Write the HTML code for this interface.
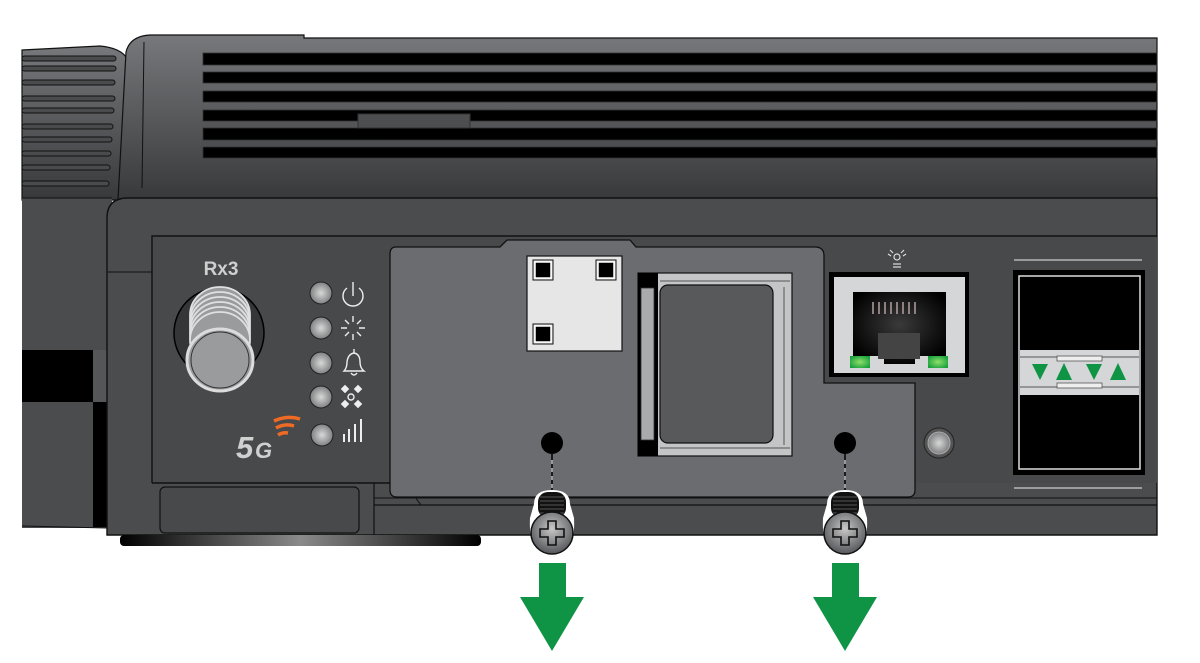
<!DOCTYPE html>
<html><head><meta charset="utf-8"><style>
html,body{margin:0;padding:0;background:#fff}
svg{display:block}
text{font-family:"Liberation Sans",sans-serif}
</style></head><body>
<svg width="1200" height="663" viewBox="0 0 1200 663" xmlns="http://www.w3.org/2000/svg">
<defs>
<linearGradient id="top" x1="0" y1="0" x2="0" y2="1"><stop offset="0" stop-color="#77787b"/><stop offset="1" stop-color="#38393b"/></linearGradient>
<linearGradient id="foot" x1="0" y1="0" x2="1" y2="0"><stop offset="0" stop-color="#000"/><stop offset="0.5" stop-color="#8a8a8a"/><stop offset="1" stop-color="#000"/></linearGradient>
<radialGradient id="led" cx="0.5" cy="0.5" r="0.6"><stop offset="0" stop-color="#d8d8d8"/><stop offset="1" stop-color="#6e6f71"/></radialGradient>
<radialGradient id="gled" cx="0.5" cy="0.5" r="0.6"><stop offset="0" stop-color="#8fe06a"/><stop offset="1" stop-color="#17a03c"/></radialGradient>
<radialGradient id="jack" cx="0.5" cy="0.45" r="0.6"><stop offset="0" stop-color="#3a3a3a"/><stop offset="1" stop-color="#000"/></radialGradient>
<radialGradient id="scr" cx="0.5" cy="0.4" r="0.6"><stop offset="0" stop-color="#c8c8c8"/><stop offset="1" stop-color="#55565a"/></radialGradient>
</defs>

<path d="M22,50 L100,46 Q122,48 128,60 L120,200 L22,200 Z" fill="url(#top)" stroke="#111" stroke-width="1.2"/>
<g stroke="#111" stroke-width="1" fill="#4a4b4d">
<rect x="22" y="56" width="94" height="5" rx="2.5"/><rect x="22" y="66" width="94" height="5" rx="2.5"/>
<rect x="22" y="80" width="93" height="5" rx="2.5"/><rect x="22" y="96" width="93" height="5" rx="2.5"/>
<rect x="22" y="108" width="92" height="5" rx="2.5"/><rect x="22" y="124" width="91" height="5" rx="2.5"/>
<rect x="22" y="137" width="90" height="5" rx="2.5"/><rect x="22" y="151" width="89" height="5" rx="2.5"/>
<rect x="22" y="165" width="88" height="5" rx="2.5"/><rect x="22" y="181" width="87" height="5" rx="2.5"/>
</g>

<path d="M118,200 L126,52 Q130,36 150,35 L304,35 L304,38 L1157,38 L1157,200 Z" fill="url(#top)" stroke="#111" stroke-width="1.2"/>
<line x1="144" y1="42" x2="142" y2="188" stroke="#111" stroke-width="1"/>
<g fill="#000" stroke="#333" stroke-width="0.8">
<rect x="203" y="53" width="954" height="12"/><rect x="203" y="72" width="954" height="11"/>
<rect x="203" y="91" width="954" height="11"/><rect x="203" y="110" width="954" height="11"/>
<rect x="203" y="128" width="954" height="12"/><rect x="203" y="147" width="954" height="11"/>
</g>
<rect x="358" y="114" width="112" height="14" fill="#4d4e50" stroke="#333" stroke-width="1"/>

<rect x="22" y="198" width="90" height="330" fill="#4b4c4e"/>
<line x1="22" y1="198" x2="112" y2="198" stroke="#111"/>
<rect x="22" y="350" width="71" height="52" fill="#000"/>
<rect x="93" y="350" width="14" height="52" fill="#555658"/>
<rect x="93" y="402" width="14" height="125" fill="#000"/>
<line x1="22" y1="526" x2="107" y2="528" stroke="#111"/>

<path d="M107,535 L107,218 Q107,198 128,198 L1157,198 L1157,535 Z" fill="#4b4c4e" stroke="#111" stroke-width="1.4"/>
<line x1="107" y1="272" x2="152" y2="272" stroke="#111"/>
<rect x="120" y="535" width="361" height="11" rx="4" fill="url(#foot)"/>

<rect x="153" y="237" width="1004" height="246" fill="#48494b"/>
<path d="M152,483 L152,236 L1157,236" fill="none" stroke="#111" stroke-width="1.4"/>
<line x1="152" y1="483" x2="390" y2="483" stroke="#111" stroke-width="1.4"/>
<line x1="374" y1="483" x2="374" y2="535" stroke="#111" stroke-width="1.2"/>
<rect x="160" y="487" width="199" height="46" rx="5" fill="#48494b" stroke="#111" stroke-width="1.2"/>
<line x1="374" y1="505" x2="1157" y2="505" stroke="#111" stroke-width="1.2"/>
<line x1="374" y1="498" x2="1157" y2="498" stroke="#111" stroke-width="1"/>

<path d="M396,247 L500,247 L507,240 L630,240 L636,247 L815,247 Q824,247 824,256 L824,383 L915,383 L915,490 Q915,497 908,497 L397,497 Q390,497 390,490 L390,254 Q390,247 396,247 Z" fill="#6b6c6f" stroke="#111" stroke-width="1.3"/>
<path d="M415,497 L421,505 L915,505" fill="none" stroke="#111" stroke-width="1"/>

<rect x="527" y="256" width="95" height="95" fill="#e6e6e6" stroke="#111" stroke-width="1.2"/>
<g fill="#000" stroke="#fff" stroke-width="1.5"><rect x="535" y="262" width="16" height="16"/><rect x="598" y="262" width="16" height="16"/><rect x="535" y="326" width="16" height="16"/></g>
<g fill="none" stroke="#111" stroke-width="1"><rect x="533" y="260" width="20" height="20"/><rect x="596" y="260" width="20" height="20"/><rect x="533" y="324" width="20" height="20"/></g>

<rect x="638" y="273" width="154" height="183" fill="#c4c5c7" stroke="#111" stroke-width="1.2"/>
<rect x="638" y="273" width="20" height="183" fill="#000"/>
<rect x="641" y="288" width="13" height="152" fill="#a9aaac" stroke="#333" stroke-width="0.8"/>
<rect x="660" y="285" width="113" height="158" rx="8" fill="#58595b" stroke="#111" stroke-width="1.2"/>
<line x1="660" y1="281" x2="790" y2="281" stroke="#555" stroke-width="1"/>
<line x1="660" y1="448" x2="790" y2="448" stroke="#555" stroke-width="1"/>
<line x1="784" y1="287" x2="784" y2="445" stroke="#555" stroke-width="1"/>

<ellipse cx="552" cy="443" rx="11" ry="11" fill="#000"/>
<ellipse cx="845" cy="443" rx="11" ry="11" fill="#000"/>
<line x1="552" y1="454" x2="552" y2="492" stroke="#000" stroke-width="1.5"/>
<line x1="552" y1="460" x2="552" y2="492" stroke="#fff" stroke-width="1" stroke-dasharray="4 4"/>
<line x1="845" y1="454" x2="845" y2="492" stroke="#000" stroke-width="1.5"/>
<line x1="845" y1="460" x2="845" y2="492" stroke="#fff" stroke-width="1" stroke-dasharray="4 4"/>

<rect x="829" y="272" width="140" height="105" fill="#000"/>
<rect x="834" y="277" width="131" height="96" fill="#d5d6d8"/>
<path d="M853,292 L946,292 L946,356 L915,356 L915,364 L884,364 L884,356 L853,356 Z" fill="url(#jack)"/>
<g stroke="#a99" stroke-width="1.6"><line x1="873" y1="302" x2="873" y2="314"/><line x1="879" y1="302" x2="879" y2="314"/><line x1="885" y1="302" x2="885" y2="314"/><line x1="891" y1="302" x2="891" y2="314"/><line x1="897" y1="302" x2="897" y2="314"/><line x1="903" y1="302" x2="903" y2="314"/><line x1="909" y1="302" x2="909" y2="314"/><line x1="915" y1="302" x2="915" y2="314"/></g>
<rect x="878" y="333" width="42" height="26" fill="#444"/>
<rect x="850" y="356" width="20" height="12" fill="url(#gled)"/>
<rect x="928" y="356" width="20" height="12" fill="url(#gled)"/>
<g fill="none" stroke="#ddd" stroke-width="1.2"><circle cx="897" cy="257" r="3"/><line x1="893" y1="264" x2="901" y2="264"/><line x1="893" y1="267" x2="901" y2="267"/><path d="M890,250 l3,3 M904,250 l-3,3 M888,254 l3,2 M906,254 l-3,2"/></g>

<circle cx="939" cy="443" r="15" fill="#555" stroke="#222" stroke-width="1"/>
<circle cx="939" cy="443" r="11" fill="url(#led)" stroke="#aaa" stroke-width="1"/>

<line x1="1014" y1="260" x2="1142" y2="260" stroke="#ccc" stroke-width="1.2"/>
<line x1="1014" y1="488" x2="1142" y2="488" stroke="#ccc" stroke-width="1.2"/>
<rect x="1013" y="270" width="132" height="205" fill="#000"/>
<rect x="1019" y="276" width="121" height="193" fill="#000" stroke="#ddd" stroke-width="1.5"/>
<rect x="1020" y="350" width="119" height="45" fill="#d5d6d8"/>
<line x1="1020" y1="357" x2="1139" y2="357" stroke="#555"/><line x1="1020" y1="387" x2="1139" y2="387" stroke="#555"/>
<rect x="1057" y="356" width="45" height="5" fill="#eee" stroke="#555" stroke-width="0.8"/>
<rect x="1057" y="383" width="45" height="5" fill="#eee" stroke="#555" stroke-width="0.8"/>
<g fill="#0f9446"><path d="M1032,364 L1048,364 L1040,380Z"/><path d="M1056,380 L1072,380 L1064,363Z"/><path d="M1086,364 L1102,364 L1094,380Z"/><path d="M1110,380 L1126,380 L1118,363Z"/></g>

<text x="221" y="275" font-size="19" font-weight="bold" fill="#cfcfcf" text-anchor="middle">Rx3</text>
<ellipse cx="219" cy="333" rx="45" ry="45" fill="#353638" stroke="#000" stroke-width="1.5"/>
<g fill="#9a9b9d" stroke="#e0e0e0" stroke-width="1.8">
<ellipse cx="220" cy="315" rx="30" ry="28"/><ellipse cx="220" cy="320" rx="30" ry="28"/><ellipse cx="220" cy="325" rx="30" ry="28"/><ellipse cx="220" cy="330" rx="30" ry="28"/><ellipse cx="220" cy="335" rx="30" ry="28"/><ellipse cx="220" cy="340" rx="30" ry="28"/>
</g>
<ellipse cx="220" cy="360" rx="33" ry="31" fill="#9a9b9d" stroke="#dcdcdc" stroke-width="3"/>
<ellipse cx="220" cy="360" rx="29" ry="28" fill="none" stroke="#333" stroke-width="1"/>

<g stroke="#222" stroke-width="1"><circle cx="321" cy="293" r="11" fill="url(#led)"/><circle cx="321" cy="328" r="11" fill="url(#led)"/><circle cx="321" cy="363" r="11" fill="url(#led)"/><circle cx="321" cy="397" r="11" fill="url(#led)"/><circle cx="322" cy="435" r="11" fill="url(#led)"/></g>
<g fill="none" stroke="#eee" stroke-width="1.4">
<path d="M347,288 A10,10 0 1 0 359,288"/><line x1="353" y1="282" x2="353" y2="296"/>
<path d="M353,316 v6 M353,334 v6 M341,328 h6 M359,328 h6 M345,320 l4,4 M361,320 l-4,4 M345,336 l4,-4 M361,336 l-4,-4"/>
<path d="M344,371 L364,371 Q360,368 360,362 Q360,354 354,353 Q348,354 347,362 Q347,368 344,371 Z M351,373 Q354,377 357,373"/><line x1="354" y1="349" x2="354" y2="353"/>
<circle cx="351" cy="397" r="3"/>
</g>
<g fill="#eee"><rect x="342" y="386" width="6" height="6" transform="rotate(45 345 389)"/><rect x="355" y="386" width="6" height="6" transform="rotate(45 358 389)"/><rect x="342" y="401" width="6" height="6" transform="rotate(45 345 404)"/><rect x="355" y="401" width="6" height="6" transform="rotate(45 358 404)"/>
<rect x="343" y="434" width="2" height="8"/><rect x="348" y="429" width="2" height="13"/><rect x="354" y="424" width="2" height="18"/><rect x="360" y="419" width="2" height="23"/></g>
<text x="236" y="458" font-size="31" font-weight="bold" font-style="italic" fill="#d0d0d0">5</text>
<text x="255" y="458" font-size="22" font-weight="bold" font-style="italic" fill="#d0d0d0">G</text>
<g fill="none" stroke="#ef6a25" stroke-width="3.5"><path d="M274,421 Q287,415 300,419"/><path d="M276,428 Q285,423 294,426"/><path d="M278,435 Q283,432 288,433"/></g>

<g>
<path d="M534,504 Q534,490 552,490 Q570,490 570,504 L574,518 Q576,556 552,557 Q528,556 530,518 Z" fill="#fff"/>
<rect x="538" y="492" width="28" height="26" rx="10" fill="#111"/>
<g stroke="#555" stroke-width="1"><line x1="540" y1="497" x2="564" y2="497"/><line x1="540" y1="501" x2="564" y2="501"/><line x1="540" y1="505" x2="564" y2="505"/><line x1="540" y1="509" x2="564" y2="509"/><line x1="540" y1="513" x2="564" y2="513"/></g>
<circle cx="552" cy="533" r="21" fill="url(#scr)" stroke="#111" stroke-width="1.5"/>
<path d="M548,521 h8 v8 h8 v8 h-8 v8 h-8 v-8 h-8 v-8 h8 Z" fill="none" stroke="#111" stroke-width="1.6"/>
</g>
<g transform="translate(293,0)">
<path d="M534,504 Q534,490 552,490 Q570,490 570,504 L574,518 Q576,556 552,557 Q528,556 530,518 Z" fill="#fff"/>
<rect x="538" y="492" width="28" height="26" rx="10" fill="#111"/>
<g stroke="#555" stroke-width="1"><line x1="540" y1="497" x2="564" y2="497"/><line x1="540" y1="501" x2="564" y2="501"/><line x1="540" y1="505" x2="564" y2="505"/><line x1="540" y1="509" x2="564" y2="509"/><line x1="540" y1="513" x2="564" y2="513"/></g>
<circle cx="552" cy="533" r="21" fill="url(#scr)" stroke="#111" stroke-width="1.5"/>
<path d="M548,521 h8 v8 h8 v8 h-8 v8 h-8 v-8 h-8 v-8 h8 Z" fill="none" stroke="#111" stroke-width="1.6"/>
</g>

<path d="M539,563 L566,563 L566,597 L584,597 L552,651 L520,597 L539,597 Z" fill="#0f9446"/>
<path d="M832,563 L859,563 L859,597 L877,597 L845,651 L813,597 L832,597 Z" fill="#0f9446"/>
</svg>
</body></html>
